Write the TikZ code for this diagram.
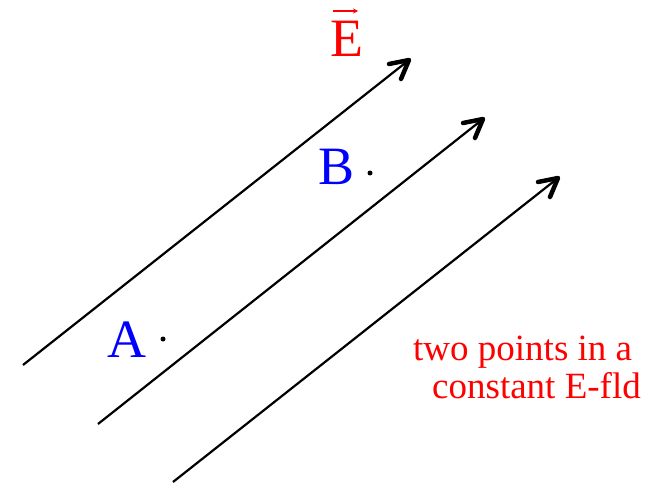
\documentclass[tikz,border=0pt]{standalone}
\usepackage{fontspec}
\setmainfont{Liberation Serif}
\usetikzlibrary{arrows.meta}
\tikzset{
  fieldline/.style={line width=2.2bp, black},
  barb/.style={line width=4.5bp, black, line cap=round, line join=round},
  ptdot/.style={circle, fill=black, inner sep=0pt, minimum size=5bp},
  ptlabel/.style={text=blue, font=\fontsize{54bp}{60bp}\selectfont, inner sep=0pt, anchor=base west},
  note/.style={text=red, font=\fontsize{37bp}{40bp}\selectfont, inner sep=0pt, anchor=base west},
  vecarrow/.style={red, line width=1.3bp, -{Stealth[length=5bp,width=5bp]}}
}
\begin{document}
\begin{tikzpicture}[x=1bp,y=-1bp]
\useasboundingbox (0,0) rectangle (660,488);
% field lines
\coordinate (s1) at (23,365);  \coordinate (t1) at (409,60);
\coordinate (s2) at (98,424);  \coordinate (t2) at (483,119);
\coordinate (s3) at (173,482); \coordinate (t3) at (558,178);
\draw[fieldline] (s1) -- (t1);
\draw[fieldline] (s2) -- (t2);
\draw[fieldline] (s3) -- (t3);
\draw[barb] ([shift={(-20,4)}]t1) -- (t1) -- ([shift={(-8,19)}]t1);
\draw[barb] ([shift={(-20,4)}]t2) -- (t2) -- ([shift={(-8,19)}]t2);
\draw[barb] ([shift={(-20,4)}]t3) -- (t3) -- ([shift={(-8,19)}]t3);
% points
\node[ptdot] (dA) at (163,339) {};
\node[ptdot] (dB) at (370,173) {};
\node[ptlabel] (A) at (107,357) {A};
\node[ptlabel] (B) at (318,185) {B};
% field label
\node[ptlabel, text=red] (E) at (330,57) {E};
\coordinate (va) at (333,11);
\coordinate (vb) at (358,11);
\draw[vecarrow] (va) -- (vb);
% note
\node[note] (n1) at (413,360) {two points in a};
\node[note] (n2) at (432,398) {constant E-fld};
\end{tikzpicture}
\end{document}
